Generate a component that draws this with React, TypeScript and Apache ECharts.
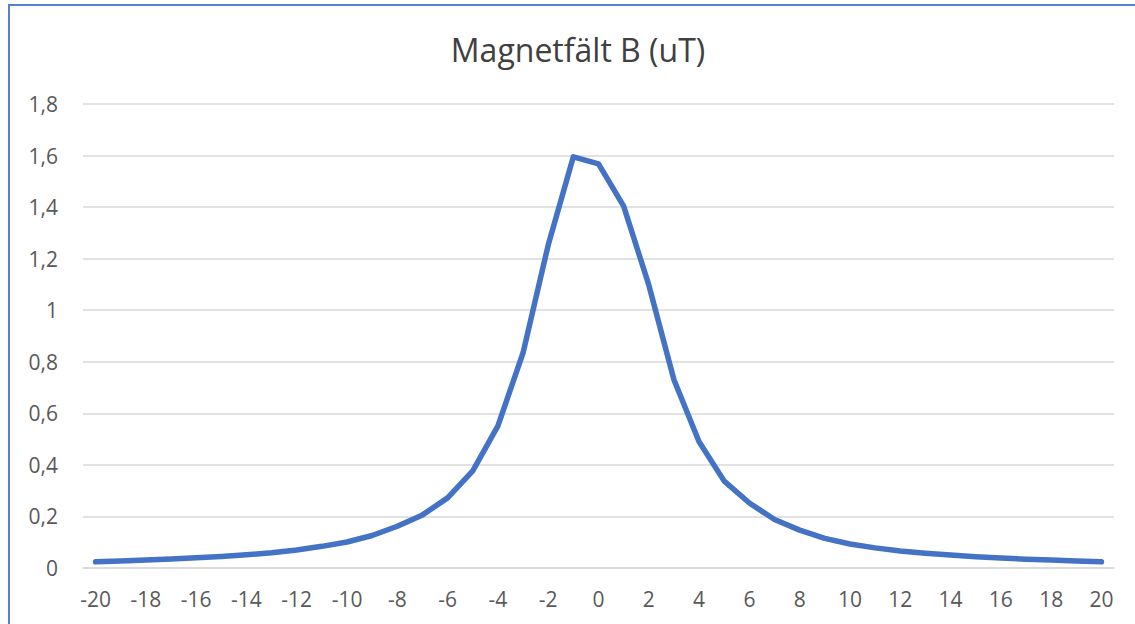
import React, { useEffect, useRef } from "react";
import * as echarts from "echarts";

const xCategories = [
  "-20", "-19", "-18", "-17", "-16", "-15", "-14", "-13", "-12", "-11",
  "-10", "-9", "-8", "-7", "-6", "-5", "-4", "-3", "-2", "-1",
  "0", "1", "2", "3", "4", "5", "6", "7", "8", "9",
  "10", "11", "12", "13", "14", "15", "16", "17", "18", "19", "20",
];

const fieldValues = [
  0.024, 0.027, 0.031, 0.035, 0.040, 0.045, 0.051, 0.059, 0.070, 0.084,
  0.101, 0.126, 0.162, 0.206, 0.272, 0.377, 0.551, 0.835, 1.253, 1.595,
  1.568, 1.404, 1.098, 0.730, 0.490, 0.337, 0.252, 0.188, 0.147, 0.115,
  0.093, 0.078, 0.066, 0.057, 0.050, 0.044, 0.039, 0.034, 0.031, 0.027, 0.024,
];

const chartTitle = "Magnetfält B (uT)";

export default function App() {
  const ref = useRef<HTMLDivElement>(null);

  useEffect(() => {
    if (!ref.current) return;
    const chart = echarts.init(ref.current, null, { renderer: "svg" });
    const font = "'Open Sans', 'Noto Sans', sans-serif";
    chart.setOption({
      animation: false,
      backgroundColor: "#ffffff",
      title: {
        text: chartTitle,
        left: 573,
        top: 28,
        textAlign: "center",
        textStyle: {
          fontFamily: font,
          fontSize: 32,
          fontWeight: "normal",
          color: "#404040",
        },
      },
      graphic: [
        {
          type: "rect",
          shape: { x: 9, y: 5, width: 1300, height: 800 },
          style: { fill: "none", stroke: "#5a7fd2", lineWidth: 2 },
          silent: true,
        },
      ],
      grid: { left: 83, right: 21, top: 104, bottom: 56, containLabel: false },
      xAxis: {
        type: "category",
        data: xCategories,
        boundaryGap: true,
        axisLine: { show: true, lineStyle: { color: "#d9d9d9", width: 1.5 } },
        axisTick: { show: false },
        axisLabel: {
          interval: 1,
          margin: 20,
          fontFamily: font,
          fontSize: 21,
          color: "#595959",
        },
        splitLine: { show: false },
      },
      yAxis: {
        type: "value",
        min: 0,
        max: 1.8,
        interval: 0.2,
        axisLine: { show: false },
        axisTick: { show: false },
        axisLabel: {
          margin: 25,
          fontFamily: font,
          fontSize: 21,
          color: "#595959",
          formatter: (v: number) =>
            String(Math.round(v * 10) / 10).replace(".", ","),
        },
        splitLine: { show: true, lineStyle: { color: "#d9d9d9", width: 1.5 } },
      },
      series: [
        {
          type: "line",
          data: fieldValues,
          symbol: "none",
          smooth: false,
          lineStyle: { color: "#4472c4", width: 5.5, cap: "round", join: "round" },
        },
      ],
    });
    return () => chart.dispose();
  }, []);

  return (
    <div
      ref={ref}
      style={{ position: "fixed", left: 0, top: 0, width: 1135, height: 624 }}
    />
  );
}
